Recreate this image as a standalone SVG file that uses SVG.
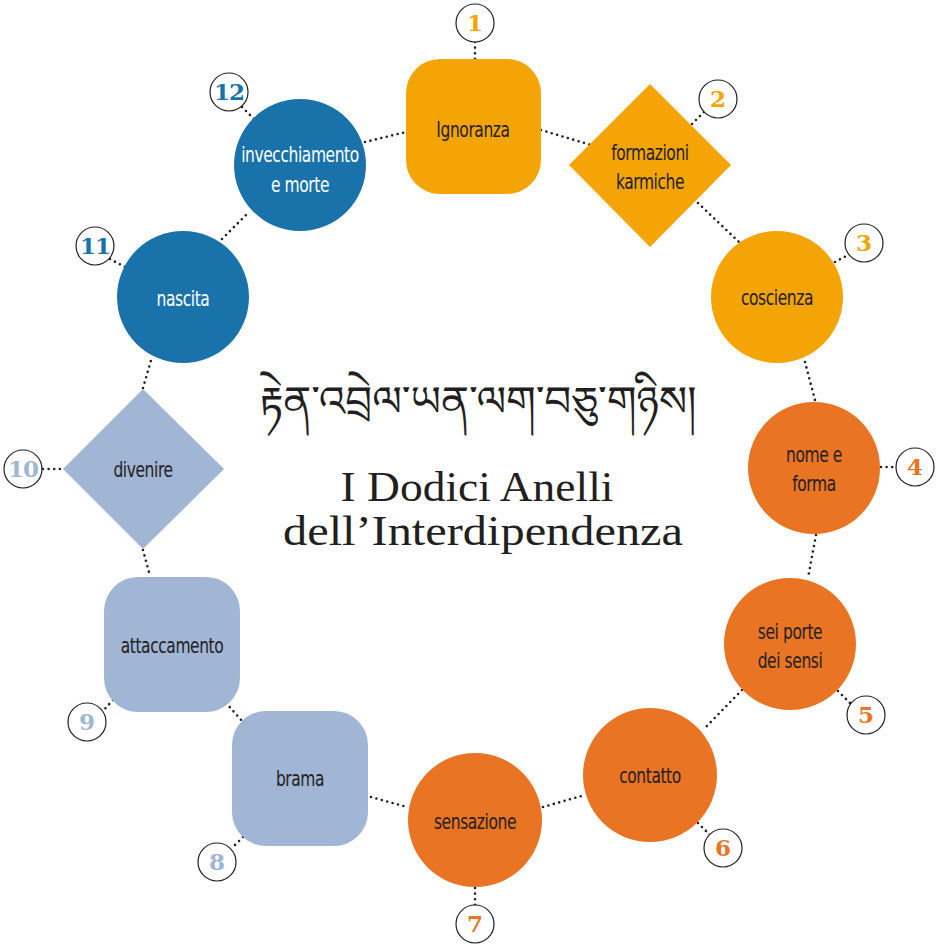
<svg xmlns="http://www.w3.org/2000/svg" width="941" height="945" viewBox="0 0 941 945">
<style>
.lbl{font-family:"DejaVu Sans Condensed","Liberation Sans Narrow","Liberation Sans",sans-serif;font-size:21px;fill:#231f20;text-anchor:middle;letter-spacing:-0.5px}
.w{fill:#ffffff}
.num{font-family:"DejaVu Serif","Liberation Serif",serif;font-weight:bold;font-size:23px;text-anchor:middle}
.nc{fill:#ffffff;stroke:#231f20;stroke-width:1.2}
.y{fill:#f4a404}.o{fill:#e97424}.lb{fill:#a1b5d5}.db{fill:#1a72aa}
.dot{fill:none;stroke:#231f20;stroke-width:2.6;stroke-linecap:round;stroke-dasharray:0 5.6}
.title{font-family:"Liberation Serif","DejaVu Serif",serif;font-size:42px;fill:#231f20;text-anchor:middle}
.tib{font-family:"Noto Serif Tibetan","Noto Sans Tibetan","Jomolhari","Tibetan Machine Uni",serif;font-size:42px;fill:#231f20;text-anchor:middle}
</style>
<rect width="941" height="945" fill="#ffffff"/>
<g id="connectors">
<path class="dot" d="M365 142L406 132"/>
<path class="dot" d="M541 130L591 145"/>
<path class="dot" d="M698 203L740 243"/>
<path class="dot" d="M805 362L815 400"/>
<path class="dot" d="M816 535L808 578"/>
<path class="dot" d="M742 690L703 730"/>
<path class="dot" d="M543 807L585 795"/>
<path class="dot" d="M371 797L407 807"/>
<path class="dot" d="M226 703L243 722"/>
<path class="dot" d="M143 550L150 576"/>
<path class="dot" d="M143 388L152 357"/>
<path class="dot" d="M222 239L248 213"/>
<path class="dot" d="M475 42L475 59"/>
<path class="dot" d="M692 124L704 112"/>
<path class="dot" d="M835 262L848 255"/>
<path class="dot" d="M881 467L897 467"/>
<path class="dot" d="M838 691L850 703"/>
<path class="dot" d="M698 823L710 835"/>
<path class="dot" d="M475 888L475 905"/>
<path class="dot" d="M243 837L232 848"/>
<path class="dot" d="M113 700L102 712"/>
<path class="dot" d="M43 469L63 469"/>
<path class="dot" d="M110 259L125 267"/>
<path class="dot" d="M242 107L254 119"/>
</g>
<g id="title">
<text class="tib" x="478" y="416" textLength="437" lengthAdjust="spacingAndGlyphs">རྟེན་འབྲེལ་ཡན་ལག་བཅུ་གཉིས།</text>
<text class="title" x="477" y="501" textLength="273" lengthAdjust="spacingAndGlyphs">I Dodici Anelli</text>
<text class="title" x="483" y="545" textLength="400" lengthAdjust="spacingAndGlyphs">dell’Interdipendenza</text>
</g>
<g id="node1">
<rect class="y" x="406" y="59" width="135" height="135" rx="34"/>
<text class="lbl" transform="translate(473 137) scale(0.82 1)">Ignoranza</text>
<circle class="nc" cx="475" cy="23" r="19"/>
<text class="num" x="475" y="31" fill="#f4a404">1</text>
</g>
<g id="node2">
<polygon class="y" points="650,84 731,165 650,247 569,165"/>
<text class="lbl" transform="translate(650 160) scale(0.82 1)">formazioni</text>
<text class="lbl" transform="translate(650 189) scale(0.82 1)">karmiche</text>
<circle class="nc" cx="718" cy="99" r="19"/>
<text class="num" x="718" y="107" fill="#f4a404">2</text>
</g>
<g id="node3">
<circle class="y" cx="777" cy="297" r="66"/>
<text class="lbl" transform="translate(777 305) scale(0.82 1)">coscienza</text>
<circle class="nc" cx="864" cy="243" r="19"/>
<text class="num" x="864" y="251" fill="#f4a404">3</text>
</g>
<g id="node4">
<circle class="o" cx="814" cy="468" r="66"/>
<text class="lbl" transform="translate(814 462) scale(0.82 1)">nome e</text>
<text class="lbl" transform="translate(814 491) scale(0.82 1)">forma</text>
<circle class="nc" cx="915" cy="467" r="19"/>
<text class="num" x="915" y="475" fill="#e97424">4</text>
</g>
<g id="node5">
<circle class="o" cx="790" cy="644" r="66"/>
<text class="lbl" transform="translate(790 639) scale(0.82 1)">sei porte</text>
<text class="lbl" transform="translate(790 668) scale(0.82 1)">dei sensi</text>
<circle class="nc" cx="866" cy="715" r="19"/>
<text class="num" x="866" y="723" fill="#e97424">5</text>
</g>
<g id="node6">
<circle class="o" cx="650" cy="775" r="67"/>
<text class="lbl" transform="translate(650 783) scale(0.82 1)">contatto</text>
<circle class="nc" cx="723" cy="848" r="19"/>
<text class="num" x="723" y="856" fill="#e97424">6</text>
</g>
<g id="node7">
<circle class="o" cx="475" cy="820" r="67"/>
<text class="lbl" transform="translate(475 829) scale(0.82 1)">sensazione</text>
<circle class="nc" cx="475" cy="924" r="19"/>
<text class="num" x="475" y="932" fill="#e97424">7</text>
</g>
<g id="node8">
<rect class="lb" x="232" y="711" width="136" height="135" rx="34"/>
<text class="lbl" transform="translate(300 786) scale(0.82 1)">brama</text>
<circle class="nc" cx="217" cy="862" r="19"/>
<text class="num" x="217" y="870" fill="#a1b5d5">8</text>
</g>
<g id="node9">
<rect class="lb" x="104" y="577" width="136" height="135" rx="34"/>
<text class="lbl" transform="translate(172 653) scale(0.82 1)">attaccamento</text>
<circle class="nc" cx="87" cy="722" r="19"/>
<text class="num" x="87" y="730" fill="#a1b5d5">9</text>
</g>
<g id="node10">
<polygon class="lb" points="143,389 224,469 143,549 63,469"/>
<text class="lbl" transform="translate(143 477) scale(0.82 1)">divenire</text>
<circle class="nc" cx="23" cy="469" r="19"/>
<text class="num" x="23" y="477" fill="#a1b5d5" letter-spacing="-1">10</text>
</g>
<g id="node11">
<circle class="db" cx="183" cy="297" r="66"/>
<text class="lbl w" transform="translate(183 306) scale(0.82 1)">nascita</text>
<circle class="nc" cx="95" cy="246" r="19"/>
<text class="num" x="95" y="254" fill="#1a72aa" letter-spacing="-1">11</text>
</g>
<g id="node12">
<circle class="db" cx="300" cy="165" r="66"/>
<text class="lbl w" transform="translate(300 162) scale(0.82 1)">invecchiamento</text>
<text class="lbl w" transform="translate(300 192) scale(0.82 1)">e morte</text>
<circle class="nc" cx="229" cy="92" r="19"/>
<text class="num" x="229" y="100" fill="#1a72aa" letter-spacing="-1">12</text>
</g>
</svg>
